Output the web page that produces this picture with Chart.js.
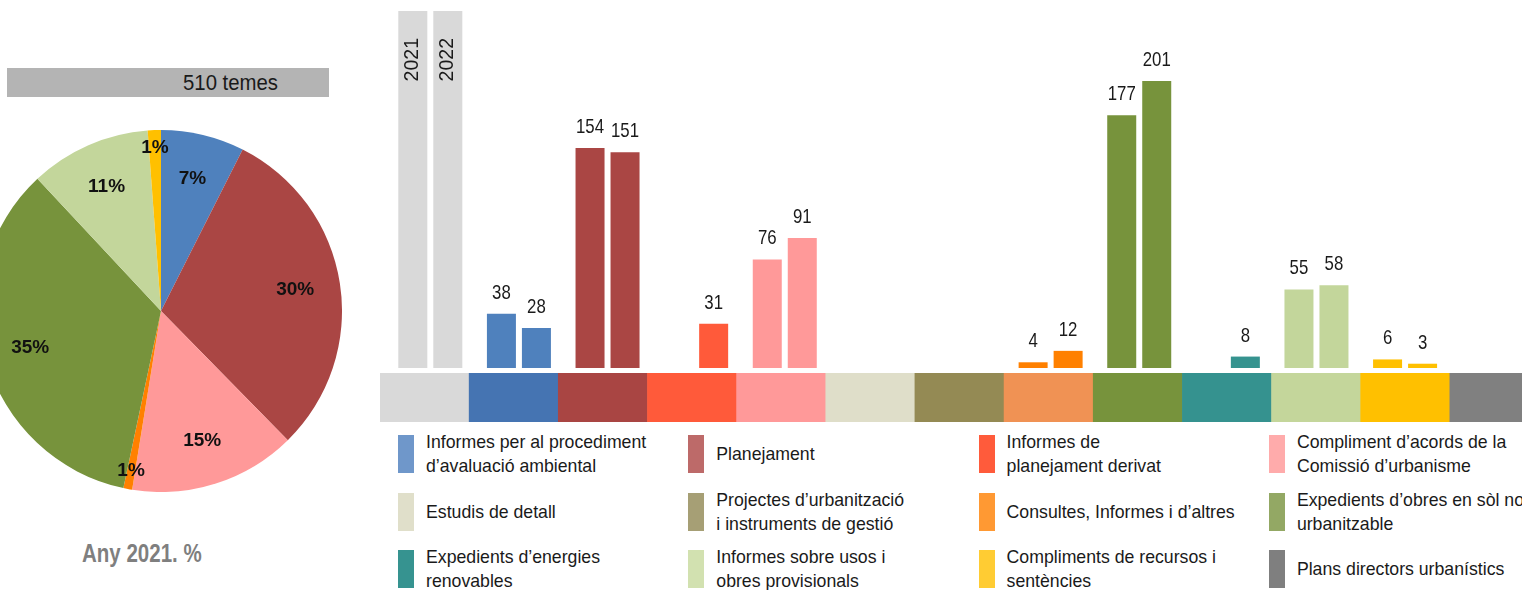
<!DOCTYPE html>
<html>
<head>
<meta charset="utf-8">
<script src="https://cdn.jsdelivr.net/npm/chart.js@4.4.1/dist/chart.umd.min.js"></script>
<style>
html,body{margin:0;padding:0;width:1522px;height:590px;overflow:hidden;background:#fff;font-family:"Liberation Sans",Arial,sans-serif;}
#wrap{position:relative;width:1522px;height:590px;overflow:hidden;}
canvas{position:absolute;}
#pie{left:-20px;top:130px;}
#bars{left:386px;top:11px;}
#band{left:380px;top:373px;}
#totalBox{position:absolute;left:7px;top:68px;width:322px;height:29px;background:#B4B4B4;}
#totalText{position:absolute;left:183px;top:72px;font-size:22px;line-height:22px;color:#1a1a1a;transform:scaleX(0.925);transform-origin:0 0;white-space:nowrap;}
#pieTitle{position:absolute;left:82px;top:541px;font-size:25px;line-height:25px;font-weight:bold;color:#7F7F7F;transform:scaleX(0.82);transform-origin:0 0;white-space:nowrap;}
#legend{position:absolute;left:398px;top:435px;display:grid;grid-template-columns:repeat(4,290.3px);grid-auto-rows:57.5px;}
.lg{height:38px;display:flex;align-items:center;}
.sw{width:16px;height:38px;flex:none;}
.tx{margin-left:12px;font-size:17.7px;line-height:24px;color:#1a1a1a;white-space:nowrap;}
</style>
</head>
<body>
<div id="wrap">
  <div id="totalBox"></div>
  <div id="totalText"></div>
  <canvas id="pie" width="362" height="362"></canvas>
  <div id="pieTitle"></div>
  <canvas id="bars" width="1152" height="357"></canvas>
  <canvas id="band" width="1159" height="49"></canvas>
  <div id="legend"></div>
</div>
<script>
const categories = [
  ['Informes per al procediment', 'd’avaluació ambiental'],
  ['Planejament'],
  ['Informes de', 'planejament derivat'],
  ['Compliment d’acords de la', 'Comissió d’urbanisme'],
  ['Estudis de detall'],
  ['Projectes d’urbanització', 'i instruments de gestió'],
  ['Consultes, Informes i d’altres'],
  ['Expedients d’obres en sòl no', 'urbanitzable'],
  ['Expedients d’energies', 'renovables'],
  ['Informes sobre usos i', 'obres provisionals'],
  ['Compliments de recursos i', 'sentències'],
  ['Plans directors urbanístics']
];
const years = ['2021', '2022'];
const values2021 = [38, 154, 0, 76, 0, 0, 4, 177, 0, 55, 6, 0];
const values2022 = [28, 151, 31, 91, 0, 0, 12, 201, 8, 58, 3, 0];
const yMax = 250;
const bandShare = [1, 1, 1, 1, 1, 1, 1, 1, 1, 1, 1, 1, 1];
const pieTitle = 'Any 2021. %';
const totalSuffix = ' temes';

const headerColor = '#D9D9D9';
const barColors = ['#4F81BD', '#AA4644', '#FF5A3A', '#FF9999', '#DDD9C3', '#948A54', '#FF8000', '#77933C', '#35938F', '#C3D69B', '#FFC000', '#7F7F7F'];
const bandColors = ['#D9D9D9', '#4574B2', '#A94543', '#FF5A3A', '#FF9999', '#DFDEC9', '#948A54', '#F09254', '#77933C', '#35928F', '#C4D69B', '#FFC000', '#808080'];
const legendColors = ['#6F97CA', '#BD6A69', '#FF5B3B', '#FFABAB', '#E0DFCA', '#A69F75', '#FF9933', '#93A864', '#369390', '#D2E1B0', '#FFCC33', '#7F7F7F'];

const FONT = '"Liberation Sans", Arial, sans-serif';

// header texts
const total2021 = values2021.reduce((a, b) => a + b, 0);
document.getElementById('totalText').textContent = total2021 + totalSuffix;
document.getElementById('pieTitle').textContent = pieTitle;

// legend
const legendEl = document.getElementById('legend');
categories.forEach((lines, i) => {
  const item = document.createElement('div');
  item.className = 'lg';
  const sw = document.createElement('div');
  sw.className = 'sw';
  sw.style.background = legendColors[i];
  const tx = document.createElement('div');
  tx.className = 'tx';
  lines.forEach((l, k) => {
    if (k) tx.appendChild(document.createElement('br'));
    tx.appendChild(document.createTextNode(l));
  });
  item.appendChild(sw);
  item.appendChild(tx);
  legendEl.appendChild(item);
});

const flatLabels = categories.map(c => c.join(' '));

// pie
const pieLabelPlugin = {
  id: 'pieLabels',
  afterDatasetsDraw(chart) {
    const ctx = chart.ctx;
    const data = chart.data.datasets[0].data;
    const total = data.reduce((a, b) => a + b, 0);
    chart.getDatasetMeta(0).data.forEach((arc, i) => {
      const v = data[i];
      if (!v) return;
      const share = v / total;
      const p = arc.getProps(['x', 'y', 'startAngle', 'endAngle', 'outerRadius'], true);
      const mid = (p.startAngle + p.endAngle) / 2;
      const f = share < 0.02 ? 0.9 : 0.75;
      const x = p.x + Math.cos(mid) * p.outerRadius * f;
      const y = p.y + Math.sin(mid) * p.outerRadius * f;
      ctx.save();
      ctx.font = 'bold 19px ' + FONT;
      ctx.fillStyle = '#111';
      ctx.textAlign = 'center';
      ctx.textBaseline = 'middle';
      ctx.fillText(Math.round(share * 100) + '%', x, y);
      ctx.restore();
    });
  }
};

new Chart(document.getElementById('pie'), {
  type: 'pie',
  data: {
    labels: flatLabels,
    datasets: [{ data: values2021, backgroundColor: barColors, borderWidth: 0 }]
  },
  options: {
    responsive: false,
    animation: false,
    layout: { padding: 0 },
    plugins: { legend: { display: false }, tooltip: { enabled: false } }
  },
  plugins: [pieLabelPlugin]
});

// bars
const barLabelPlugin = {
  id: 'barLabels',
  afterDatasetsDraw(chart) {
    const ctx = chart.ctx;
    chart.data.datasets.forEach((ds, di) => {
      const meta = chart.getDatasetMeta(di);
      meta.data.forEach((bar, i) => {
        const v = ds.data[i];
        ctx.save();
        ctx.fillStyle = '#1a1a1a';
        if (i === 0) {
          ctx.translate(bar.x + 5, bar.y + 27);
          ctx.rotate(-Math.PI / 2);
          ctx.font = '19.5px ' + FONT;
          ctx.textAlign = 'right';
          ctx.textBaseline = 'alphabetic';
          ctx.fillText(ds.label, 0, 0);
        } else if (v > 0) {
          ctx.translate(bar.x, bar.y - 15);
          ctx.scale(0.8, 1);
          ctx.font = '21px ' + FONT;
          ctx.textAlign = 'center';
          ctx.textBaseline = 'alphabetic';
          ctx.fillText(String(v), 0, 0);
        }
        ctx.restore();
      });
    });
  }
};

new Chart(document.getElementById('bars'), {
  type: 'bar',
  data: {
    labels: [''].concat(flatLabels),
    datasets: [
      { label: years[0], data: [yMax].concat(values2021), backgroundColor: [headerColor].concat(barColors) },
      { label: years[1], data: [yMax].concat(values2022), backgroundColor: [headerColor].concat(barColors) }
    ]
  },
  options: {
    responsive: false,
    animation: false,
    layout: { padding: 0 },
    datasets: { bar: { categoryPercentage: 0.79, barPercentage: 0.8286, borderWidth: 0 } },
    scales: {
      x: { display: false },
      y: { display: false, min: 0, max: yMax }
    },
    plugins: { legend: { display: false }, tooltip: { enabled: false } }
  },
  plugins: [barLabelPlugin]
});

// colour band under the bars
new Chart(document.getElementById('band'), {
  type: 'bar',
  data: {
    labels: [''].concat(flatLabels),
    datasets: [{ data: bandShare, backgroundColor: bandColors, borderWidth: 0, categoryPercentage: 1, barPercentage: 1 }]
  },
  options: {
    responsive: false,
    animation: false,
    layout: { padding: 0 },
    scales: {
      x: { display: false },
      y: { display: false, min: 0, max: 1 }
    },
    plugins: { legend: { display: false }, tooltip: { enabled: false } }
  }
});
</script>
</body>
</html>
